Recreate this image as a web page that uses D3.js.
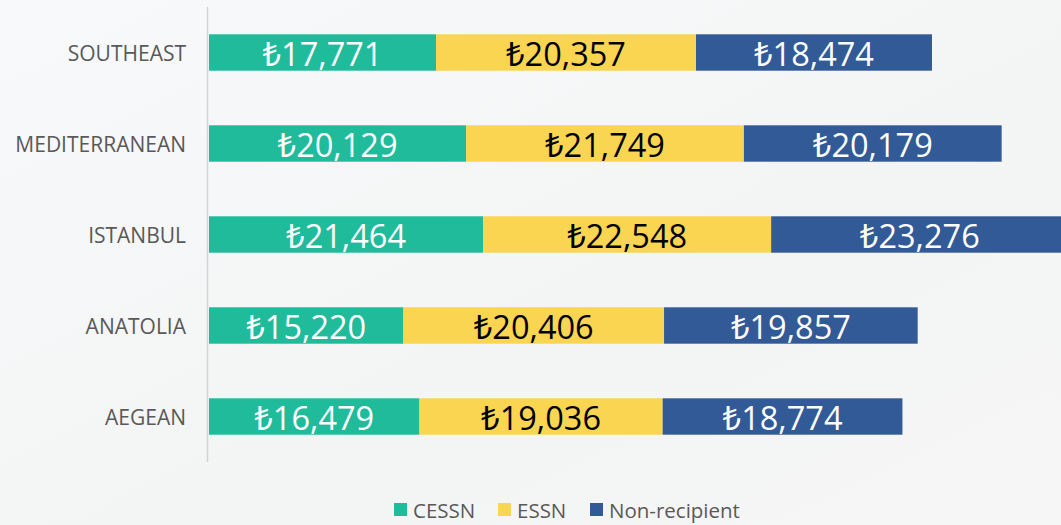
<!DOCTYPE html>
<html><head><meta charset="utf-8">
<script src="https://cdn.jsdelivr.net/npm/d3@7"></script>
<style>
html,body{margin:0;padding:0;overflow:hidden;}
body{width:1061px;height:525px;}
</style></head>
<body>
<svg id="chart" width="1061" height="525"></svg>
<script>
const categories = ["SOUTHEAST","MEDITERRANEAN","ISTANBUL","ANATOLIA","AEGEAN"];
const seriesNames = ["CESSN","ESSN","Non-recipient"];
const cessn = [17771, 20129, 21464, 15220, 16479];
const essn = [20357, 21749, 22548, 20406, 19036];
const nonRecipient = [18474, 20179, 23276, 19857, 18774];
const colors = ["#1fbb9b","#f9d551","#325a96"];
const textColors = ["#ffffff","#000000","#ffffff"];

const svg = d3.select("#chart");
const W = 1061, H = 525;
const defs = svg.append("defs");
const grad = defs.append("linearGradient").attr("id","bg").attr("x1","0").attr("y1","0").attr("x2","1").attr("y2","1");
grad.append("stop").attr("offset","0").attr("stop-color","#f8f9fa");
grad.append("stop").attr("offset","0.6").attr("stop-color","#f3f4f4");
grad.append("stop").attr("offset","1").attr("stop-color","#f6f6f6");
svg.append("rect").attr("width",W).attr("height",H).attr("fill","url(#bg)");

const rows = categories.map((c,i)=>({cat:c, CESSN:cessn[i], ESSN:essn[i], "Non-recipient":nonRecipient[i]}));
const stack = d3.stack().keys(seriesNames)(rows);

const x = d3.scaleLinear().domain([0,70000]).range([209, 209+70000*0.012773]);
const y = d3.scaleBand().domain(categories).range([7, 462]).paddingInner(0.6).paddingOuter(0.3);

// axis line
svg.append("line").attr("x1",207.5).attr("x2",207.5).attr("y1",7).attr("y2",462)
  .attr("stroke","#d4d4d4").attr("stroke-width",1.5);

const font = "'Open Sans','Noto Sans','DejaVu Sans',sans-serif";

stack.forEach((s,si)=>{
  const g = svg.append("g");
  g.selectAll("rect").data(s).enter().append("rect")
    .attr("x",d=>x(d[0])).attr("width",d=>x(d[1])-x(d[0]))
    .attr("y",d=>y(d.data.cat)).attr("height",y.bandwidth())
    .attr("fill",colors[si]);
  g.selectAll("text").data(s).enter().append("text")
    .attr("x",d=>(x(d[0])+x(d[1]))/2)
    .attr("y",d=>y(d.data.cat)+y.bandwidth()/2+1)
    .attr("text-anchor","middle").attr("dominant-baseline","central")
    .attr("font-family",font).attr("font-size",32.5)
    .attr("fill",textColors[si])
    .text(d=>"₺"+d3.format(",")(d[1]-d[0]));
});

// category labels
svg.append("g").selectAll("text").data(categories).enter().append("text")
  .attr("x",186).attr("y",d=>y(d)+y.bandwidth()/2)
  .attr("text-anchor","end").attr("dominant-baseline","central")
  .attr("font-family",font).attr("font-size",21).attr("fill","#595959")
  .text(d=>d);

// legend
const legendX = [394, 498, 590];
const lg = svg.append("g");
seriesNames.forEach((n,i)=>{
  lg.append("rect").attr("x",legendX[i]).attr("y",503).attr("width",13).attr("height",13).attr("fill",colors[i]);
  lg.append("text").attr("x",legendX[i]+19).attr("y",510).attr("dominant-baseline","central")
    .attr("font-family",font).attr("font-size",20.5).attr("fill","#595959").text(n);
});
</script>
</body></html>
